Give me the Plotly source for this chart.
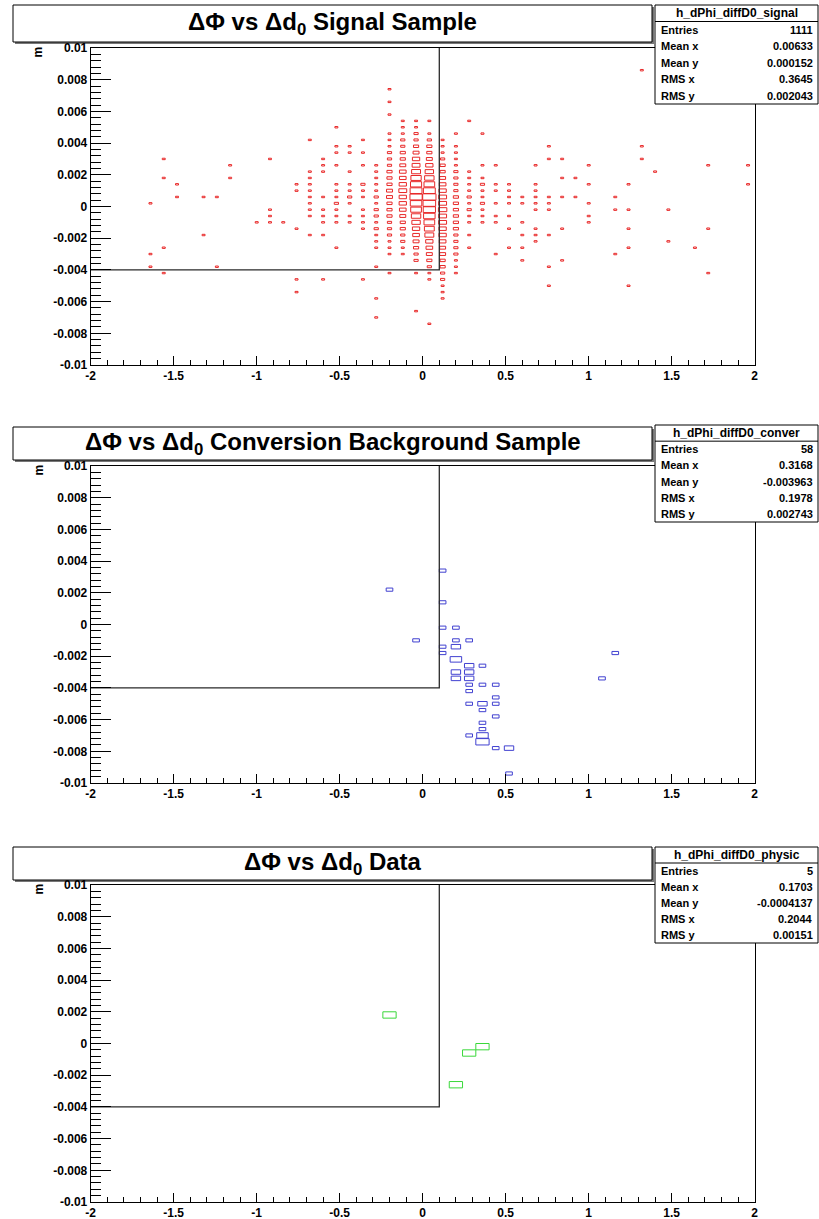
import math
import plotly.graph_objects as go

W, H = 819, 1219

# ---------------- data ----------------
BIN_W = 0.08      # x bin width
BIN_H = 0.0004    # y bin width

# Signal sample: columns of bins (x centre, y centre of first bin, counts going up)
sig_col_x = [-1.64, -1.56, -1.48, -1.32, -1.24, -1.16, -1.00, -0.92, -0.84, -0.76,
             -0.68, -0.60, -0.52, -0.44, -0.36, -0.28, -0.20, -0.12, -0.04, 0.04,
             0.12, 0.20, 0.28, 0.36, 0.44, 0.52, 0.60, 0.68, 0.76, 0.84,
             0.92, 1.00, 1.16, 1.24, 1.32, 1.40, 1.48, 1.64, 1.72, 1.96]
sig_col_y0 = [-0.0038, -0.0042, 0.0006, -0.0018, -0.0038, 0.0018, -0.001, -0.001, -0.001, -0.0054,
              -0.0018, -0.0046, -0.0026, -0.001, -0.0046, -0.007, -0.0042, -0.003, -0.0066, -0.0074,
              -0.0058, -0.0042, -0.0026, -0.001, -0.003, -0.0026, -0.0034, -0.0022, -0.005, -0.0034,
              0.0006, -0.001, -0.003, -0.005, 0.003, 0.0022, -0.0022, -0.0026, -0.0042, 0.0014]
sig_col_n = [
    [1, 0, 1, 0, 0, 0, 0, 0, 0, 0, 1],
    [1, 0, 0, 0, 1, 0, 0, 0, 0, 0, 0, 0, 0, 0, 0, 1, 0, 0, 1],
    [1, 0, 1],
    [1, 0, 0, 0, 0, 0, 1],
    [1, 0, 0, 0, 0, 0, 0, 0, 0, 0, 0, 1],
    [1, 0, 1],
    [1],
    [1, 1, 1, 0, 0, 0, 0, 0, 0, 0, 1],
    [1],
    [1, 0, 1, 0, 0, 0, 0, 0, 0, 0, 1, 0, 0, 0, 0, 0, 1, 1],
    [1, 0, 0, 1, 1, 1, 1, 1, 1, 1, 1, 0, 0, 0, 0, 1],
    [1, 0, 0, 0, 0, 0, 0, 1, 0, 1, 1, 1, 0, 1, 0, 0, 0, 1, 1, 1],
    [1, 0, 0, 0, 1, 1, 1, 2, 1, 1, 1, 0, 0, 1, 0, 1, 1, 0, 0, 1],
    [1, 1, 0, 1, 2, 1, 1, 0, 1, 0, 0, 1, 1],
    [1, 0, 0, 0, 0, 0, 0, 0, 1, 1, 1, 1, 0, 1, 1, 2, 0, 0, 1, 0, 1, 0, 1],
    [1, 0, 0, 1, 0, 0, 0, 0, 1, 0, 0, 1, 1, 1, 2, 1, 2, 2, 1, 2, 1, 1, 1, 1, 1],
    [1, 0, 0, 1, 1, 1, 2, 2, 2, 3, 3, 3, 4, 4, 3, 3, 3, 2, 2, 2, 1, 1, 1, 0, 0, 1, 0, 1, 0, 1],
    [1, 1, 2, 2, 3, 3, 4, 5, 6, 6, 7, 6, 5, 5, 4, 3, 3, 2, 2, 1, 1, 1],
    [1, 0, 0, 0, 0, 0, 1, 0, 2, 2, 3, 4, 5, 6, 8, 10, 13, 15, 17, 16, 14, 12, 9, 7, 6, 4, 3, 2, 2, 1, 1],
    [1, 0, 0, 0, 0, 0, 0, 1, 1, 2, 3, 4, 5, 6, 9, 11, 13, 15, 17, 18, 20, 16, 13, 10, 8, 6, 4, 3, 3, 2, 1, 0, 1],
    [1, 1, 1, 2, 2, 3, 3, 4, 4, 5, 6, 6, 7, 7, 8, 7, 7, 6, 5, 4, 3, 3, 2, 1, 1, 1],
    [1, 1, 1, 2, 2, 2, 2, 3, 3, 3, 3, 3, 3, 2, 2, 2, 2, 1, 1, 1, 1, 0, 1],
    [1, 0, 1, 0, 1, 1, 2, 1, 2, 1, 1, 1, 1, 0, 0, 0, 0, 0, 0, 0, 1],
    [1, 1, 1, 2, 1, 1, 2, 1, 0, 1, 0, 0, 0, 0, 1],
    [1, 0, 0, 0, 0, 1, 1, 0, 1, 0, 1, 1, 0, 0, 1],
    [1, 0, 0, 1, 0, 1, 0, 1, 1, 1, 1],
    [1, 0, 1, 0, 1, 0, 1, 0, 0, 1, 1],
    [1, 1, 1, 0, 0, 1, 1, 1, 1, 1, 0, 0, 1],
    [1, 0, 0, 1, 0, 0, 0, 0, 1, 0, 0, 0, 1, 1, 1, 0, 0, 0, 0, 0, 1, 0, 1],
    [1, 0, 0, 0, 0, 1, 0, 0, 0, 0, 1, 0, 0, 1, 0, 0, 1],
    [1, 0, 0, 1],
    [1, 1, 0, 1, 0, 0, 1, 0, 0, 1],
    [1, 0, 0, 0, 0, 0, 0, 1, 0, 1],
    [1, 0, 0, 0, 0, 0, 1, 0, 0, 1, 0, 0, 1, 0, 0, 0, 1],
    [1, 0, 1, 0, 0, 0, 0, 0, 0, 0, 0, 0, 0, 0, 1],
    [1],
    [1, 0, 0, 0, 0, 1],
    [1],
    [1, 0, 0, 0, 0, 0, 0, 1, 0, 0, 0, 0, 0, 0, 0, 0, 0, 1],
    [1, 0, 0, 1],
]

# Conversion background sample (bin centres and counts)
conv_x = [-0.20, -0.04, 0.12, 0.12, 0.12, 0.12, 0.12, 0.20, 0.20, 0.20, 0.20, 0.20,
          0.20, 0.28, 0.28, 0.28, 0.28, 0.28, 0.28, 0.28, 0.28, 0.36, 0.36, 0.36,
          0.36, 0.36, 0.36, 0.36, 0.36, 0.44, 0.44, 0.44, 0.44, 0.44, 0.52, 0.52,
          1.08, 1.16]
conv_y = [0.0022, -0.001, 0.0034, 0.0014, -0.0002, -0.0014, -0.0018, -0.0002, -0.001, -0.0014,
          -0.0022, -0.003, -0.0034, -0.001, -0.0026, -0.003, -0.0034, -0.0038, -0.0042, -0.005,
          -0.007, -0.0026, -0.0038, -0.005, -0.0054, -0.0062, -0.0066, -0.007, -0.0074, -0.0038,
          -0.0046, -0.005, -0.0058, -0.0078, -0.0078, -0.0094, -0.0034, -0.0018]
conv_n = [1, 1, 1, 1, 1, 1, 1, 1, 1, 2, 3, 2, 2, 1, 2, 2, 2, 1, 1, 1, 1, 1, 1, 2,
          1, 1, 1, 3, 4, 1, 1, 1, 1, 1, 2, 1, 1, 1]

# Data sample
data_x = [-0.20, 0.28, 0.36, 0.20]
data_y = [0.0018, -0.0006, -0.0002, -0.0026]
data_n = [1, 1, 1, 1]

titles = ["ΔΦ vs Δd<sub>0</sub> Signal Sample",
          "ΔΦ vs Δd<sub>0</sub> Conversion Background Sample",
          "ΔΦ vs Δd<sub>0</sub> Data"]
stat_names = ["h_dPhi_diffD0_signal", "h_dPhi_diffD0_conver", "h_dPhi_diffD0_physic"]
stat_labels = ["Entries", "Mean x", "Mean y", "RMS x", "RMS y"]
stat_values = [["1111", "0.00633", "0.000152", "0.3645", "0.002043"],
               ["58", "0.3168", "-0.003963", "0.1978", "0.002743"],
               ["5", "0.1703", "-0.0004137", "0.2044", "0.00151"]]
colors = ["#e82828", "#4040d0", "#3ad83a"]

x_tick_vals = [-2, -1.5, -1, -0.5, 0, 0.5, 1, 1.5, 2]
x_tick_text = ["-2", "-1.5", "-1", "-0.5", "0", "0.5", "1", "1.5", "2"]
y_tick_vals = [-0.01, -0.008, -0.006, -0.004, -0.002, 0, 0.002, 0.004, 0.006, 0.008, 0.01]
y_tick_text = ["-0.01", "-0.008", "-0.006", "-0.004", "-0.002", "0", "0.002", "0.004",
               "0.006", "0.008", "0.01"]

cut_x = 0.1
cut_y = -0.004

# ---------------- layout geometry (pixels) ----------------
FR_L, FR_R = 90.7, 754.7
FR_TOP = [48, 466, 885]
FR_BOT = [365, 783, 1202]
TITLE_BOX = [(13, 5, 652, 42), (13, 427, 652, 460), (13, 847, 652, 880)]
STAT_BOX = [(655, 5, 818, 104), (655, 425, 818, 522), (655, 847, 818, 943)]

FONT = "Liberation Sans"


def px(xp):
    return xp / W


def py(yp):
    return 1 - yp / H


def box_paths(xs, ys, ns):
    nmax = max(ns)
    bx, by = [], []
    for x, y, n in zip(xs, ys, ns):
        if n <= 0:
            continue
        f = math.sqrt(n / nmax)
        hw, hh = BIN_W / 2 * f, BIN_H / 2 * f
        bx += [x - hw, x + hw, x + hw, x - hw, x - hw, None]
        by += [y - hh, y - hh, y + hh, y + hh, y - hh, None]
    return bx, by


# expand signal columns into bins
sig_x, sig_y, sig_n = [], [], []
for cx, y0, counts in zip(sig_col_x, sig_col_y0, sig_col_n):
    for i, n in enumerate(counts):
        sig_x.append(cx)
        sig_y.append(round(y0 + i * BIN_H, 6))
        sig_n.append(n)

samples = [(sig_x, sig_y, sig_n), (conv_x, conv_y, conv_n), (data_x, data_y, data_n)]

fig = go.Figure()
shapes = []
annotations = []

for p in range(3):
    xa = "x" if p == 0 else f"x{p + 1}"
    ya = "y" if p == 0 else f"y{p + 1}"
    bx, by = box_paths(*samples[p])
    fig.add_trace(go.Scatter(x=bx, y=by, mode="lines", xaxis=xa, yaxis=ya,
                             line=dict(color=colors[p], width=1), hoverinfo="skip",
                             showlegend=False))
    fig.add_trace(go.Scatter(x=[-2, cut_x, cut_x], y=[cut_y, cut_y, 0.01], mode="lines",
                             xaxis=xa, yaxis=ya, line=dict(color="#2a2a2a", width=1.3),
                             hoverinfo="skip", showlegend=False))

    suf = "" if p == 0 else str(p + 1)
    fig.layout["xaxis" + suf] = dict(
        domain=[px(FR_L), px(FR_R)], anchor=ya, range=[-2, 2],
        tickvals=x_tick_vals, ticktext=x_tick_text,
        ticks="inside", ticklen=9, tickwidth=1, tickcolor="black",
        minor=dict(dtick=0.1, tick0=-2, ticks="inside", ticklen=5, tickcolor="black", tickwidth=1),
        showline=True, linecolor="black", linewidth=1, mirror=True,
        showgrid=False, zeroline=False, automargin=False,
        tickfont=dict(family=FONT, size=12, color="black", weight="bold"))
    fig.layout["yaxis" + suf] = dict(
        domain=[py(FR_BOT[p]), py(FR_TOP[p])], anchor=xa, range=[-0.01, 0.01],
        tickvals=y_tick_vals, ticktext=y_tick_text,
        ticks="inside", ticklen=20, tickwidth=1, tickcolor="black",
        minor=dict(dtick=0.0004, tick0=-0.01, ticks="inside", ticklen=10, tickcolor="black", tickwidth=1),
        showline=True, linecolor="black", linewidth=1, mirror=True,
        showgrid=False, zeroline=False, automargin=False,
        tickfont=dict(family=FONT, size=12, color="black", weight="bold"))

    # y-axis title "m"
    annotations.append(dict(xref="paper", yref="paper", x=px(38), y=py(FR_TOP[p] - 3),
                            text="m", textangle=-90, showarrow=False, xanchor="center",
                            yanchor="top",
                            font=dict(family=FONT, size=12, color="black", weight="bold")))

    # title box (drawn below axes so tick labels stay visible)
    x0, y0, x1, y1 = TITLE_BOX[p]
    shapes.append(dict(type="rect", xref="paper", yref="paper", x0=px(x0 + 2), x1=px(x1 + 2),
                       y0=py(y0 + 2), y1=py(y1 + 2), line=dict(width=0), fillcolor="#777777",
                       layer="below"))
    shapes.append(dict(type="rect", xref="paper", yref="paper", x0=px(x0), x1=px(x1),
                       y0=py(y0), y1=py(y1), line=dict(color="black", width=1),
                       fillcolor="white", layer="below"))
    annotations.append(dict(xref="paper", yref="paper", x=px((x0 + x1) / 2), y=py((y0 + y1) / 2),
                            text=titles[p], showarrow=False, xanchor="center", yanchor="middle",
                            font=dict(family=FONT, size=24, color="black", weight="bold")))

    # stats box
    sx0, sy0, sx1, sy1 = STAT_BOX[p]
    row_h = (sy1 - sy0) / 6
    shapes.append(dict(type="rect", xref="paper", yref="paper", x0=px(sx0), x1=px(sx1),
                       y0=py(sy0), y1=py(sy1), line=dict(color="black", width=1),
                       fillcolor="white", layer="above"))
    shapes.append(dict(type="line", xref="paper", yref="paper", x0=px(sx0), x1=px(sx1),
                       y0=py(sy0 + row_h), y1=py(sy0 + row_h),
                       line=dict(color="black", width=1), layer="above"))
    annotations.append(dict(xref="paper", yref="paper", x=px((sx0 + sx1) / 2),
                            y=py(sy0 + row_h / 2), text=stat_names[p], showarrow=False,
                            xanchor="center", yanchor="middle",
                            font=dict(family=FONT, size=12, color="black", weight="bold")))
    for r in range(5):
        yc = py(sy0 + row_h * (r + 1.5))
        annotations.append(dict(xref="paper", yref="paper", x=px(sx0 + 4), y=yc,
                                text=stat_labels[r], showarrow=False, xanchor="left",
                                yanchor="middle",
                                font=dict(family=FONT, size=11, color="black", weight="bold")))
        annotations.append(dict(xref="paper", yref="paper", x=px(sx1 - 3), y=yc,
                                text=stat_values[p][r], showarrow=False, xanchor="right",
                                yanchor="middle",
                                font=dict(family=FONT, size=11, color="black", weight="bold")))

fig.update_layout(width=W, height=H, margin=dict(l=0, r=0, t=0, b=0, pad=0),
                  autosize=False, hovermode=False,
                  paper_bgcolor="white", plot_bgcolor="white",
                  shapes=shapes, annotations=annotations, showlegend=False)

fig.write_html("out.html", config={"displayModeBar": False},
               post_script="document.body.style.margin='0';document.body.style.padding='0';"
                           "document.documentElement.style.overflow='hidden';")
